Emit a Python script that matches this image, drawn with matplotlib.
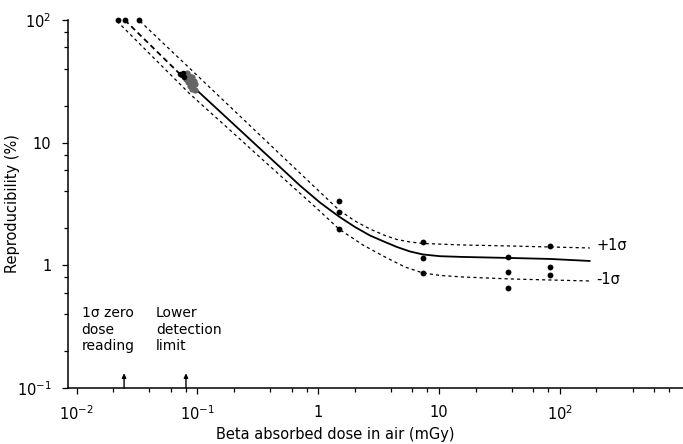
import numpy as np
import matplotlib
matplotlib.use("Agg")
from matplotlib import pyplot as plt
from matplotlib.ticker import LogLocator, FixedLocator, FixedFormatter, NullFormatter

# measured points (dose in mGy, reproducibility in %)
dot_dose = [0.022, 0.025, 0.033,
            1.48, 1.48, 1.48,
            7.33, 7.33, 7.33,
            37.0, 37.0, 37.0,
            82.0, 82.0, 82.0]
dot_repro = [100, 100, 100,
             3.35, 2.72, 1.98,
             1.55, 1.14, 0.87,
             1.16, 0.88, 0.655,
             1.43, 0.965, 0.835]

# cluster of readings near the lower detection limit
cluster_dose = [0.078, 0.082, 0.085, 0.080, 0.086, 0.090, 0.083,
                0.088, 0.093, 0.087, 0.092, 0.096, 0.090, 0.095]
cluster_repro = [36.0, 37.0, 35.0, 33.0, 33.5, 34.0, 31.0,
                 31.0, 32.0, 29.0, 29.5, 30.0, 27.5, 27.0]
arrow_dose = [0.072, 0.075, 0.077, 0.076]
arrow_repro = [36.5, 35.5, 34.0, 37.0]

# mean curve: dashed part, then solid part
mean_dash_dose = [0.025, 0.0717]
mean_dash_repro = [100, 36.2]
mean_dose = [0.0834, 0.1049, 0.1535, 0.2246, 0.3287, 0.4814, 0.7045, 1.031,
             1.480, 2.008, 2.672, 3.556, 4.468, 5.724, 7.333, 10.13,
             15.70, 38.45, 82.35, 176.4]
mean_repro = [31.16, 25.34, 17.92, 12.67, 8.95, 6.33, 4.474, 3.252,
              2.502, 2.055, 1.752, 1.551, 1.412, 1.298, 1.227, 1.188,
              1.171, 1.149, 1.128, 1.086]

# +1 sigma curve
up_dose = [0.03345, 0.04895, 0.07166, 0.1049, 0.1535, 0.2246, 0.3287, 0.5498,
           0.8522, 1.480, 2.008, 2.672, 3.556, 4.468, 5.724, 7.333,
           15.70, 38.45, 82.35, 176.4]
up_repro = [97.8, 68.5, 47.96, 33.6, 23.51, 16.47, 11.53, 7.122,
            4.732, 2.826, 2.30, 1.979, 1.752, 1.625, 1.551, 1.508,
            1.466, 1.439, 1.412, 1.386]

# -1 sigma curve
lo_dose = [0.02159, 0.03345, 0.05924, 0.0867, 0.1269, 0.1857, 0.3105, 0.5498,
           0.9737, 1.480, 2.338, 3.556, 5.204, 7.333, 10.13, 15.70,
           38.45, 82.35, 176.4]
lo_repro = [97.8, 63.5, 36.2, 24.9, 17.75, 12.67, 8.0, 4.82,
            2.907, 1.979, 1.466, 1.171, 0.970, 0.867, 0.828, 0.804,
            0.775, 0.760, 0.746]

# markers on the dose axis
limit_dose = [0.0247, 0.0803]
limit_text = ["1\u03c3 zero\ndose\nreading", "Lower\ndetection\nlimit"]
limit_text_x = [0.0110, 0.0454]

xticks = [0.01, 0.1, 1, 10, 100]
xticklabels = ["$10^{-2}$", "$10^{-1}$", "1", "10", "$10^{2}$"]
yticks = [0.1, 1, 10, 100]
yticklabels = ["$10^{-1}$", "1", "10", "$10^{2}$"]

plt.rcParams['font.family'] = ['DejaVu Sans']
plt.rcParams['mathtext.fontset'] = 'dejavusans'

fig = plt.figure(figsize=(6.83, 4.44), dpi=100, facecolor='w')
ax = fig.add_axes([0.0996, 0.126, 0.9004, 0.829])
ax.set_xscale('log')
ax.set_yscale('log')
ax.set_xlim(0.00849, 1040)
ax.set_ylim(0.1, 100)

sig_style = dict(color='k', lw=0.9, dashes=(2.5, 2.5))
ax.plot(up_dose, up_repro, **sig_style)
ax.plot(lo_dose, lo_repro, **sig_style)
ax.plot(mean_dash_dose, mean_dash_repro, color='k', lw=1.3, dashes=(3, 2))
ax.plot(mean_dose, mean_repro, color='k', lw=1.3, solid_capstyle='round',
        solid_joinstyle='round')

ax.plot(cluster_dose, cluster_repro, 'o', color='0.4', ms=4.5, mec='none')
ax.plot(arrow_dose, arrow_repro, 'o', color='k', ms=4, mec='none')
ax.plot(dot_dose, dot_repro, 'o', color='k', ms=4.2, mec='none', clip_on=False)

for d in limit_dose:
    ax.annotate('', xy=(d, 0.132), xytext=(d, 0.1),
                arrowprops=dict(arrowstyle='-|>,head_length=0.25,head_width=0.12',
                                color='k', lw=1.0, shrinkA=0, shrinkB=0))
for x, t in zip(limit_text_x, limit_text):
    ax.text(x, 0.467, t, fontsize=10, va='top', ha='left', linespacing=1.25)

ax.text(201, 1.44, "+1\u03c3", fontsize=10.5, va='center', ha='left')
ax.text(201, 0.76, "-1\u03c3", fontsize=10.5, va='center', ha='left')

for s in ('top', 'right'):
    ax.spines[s].set_visible(False)
for s in ('left', 'bottom'):
    ax.spines[s].set_linewidth(1.1)

ax.xaxis.set_major_locator(FixedLocator(xticks))
ax.xaxis.set_major_formatter(FixedFormatter(xticklabels))
ax.xaxis.set_minor_locator(LogLocator(base=10, subs=(2, 4, 6, 8)))
ax.xaxis.set_minor_formatter(NullFormatter())
ax.yaxis.set_major_locator(FixedLocator(yticks))
ax.yaxis.set_major_formatter(FixedFormatter(yticklabels))
ax.yaxis.set_minor_locator(LogLocator(base=10, subs=(2, 4, 6, 8)))
ax.yaxis.set_minor_formatter(NullFormatter())
ax.tick_params(which='both', direction='out', width=0.9, labelsize=10.5)
ax.tick_params(which='major', length=4, pad=8)
ax.tick_params(which='minor', length=3)

ax.set_xlabel("Beta absorbed dose in air (mGy)", fontsize=10.5)
ax.xaxis.set_label_coords(0.434, -0.105)
ax.set_ylabel("Reproducibility (%)", fontsize=10.5)
ax.yaxis.set_label_coords(-0.078, 0.5)

fig.savefig("out.png", dpi=100)
